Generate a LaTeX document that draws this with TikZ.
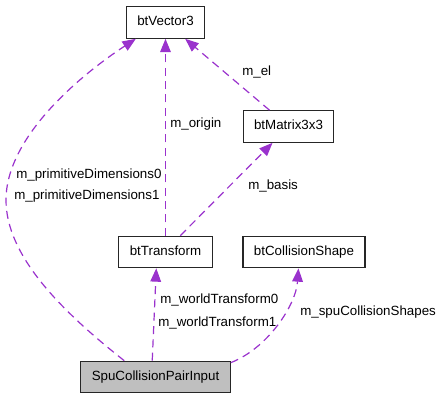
\documentclass[tikz,border=0pt]{standalone}
\usepackage{fontspec}
\setmainfont{Liberation Sans}
\usetikzlibrary{arrows.meta,calc}
\definecolor{usagepurple}{HTML}{9A32CD}
\definecolor{focusgrey}{HTML}{BFBFBF}

\begin{document}
\begin{tikzpicture}[
  x=.75pt,y=-.75pt,
  classbox/.style={draw=black!85,line width=.9pt,fill=white,
    inner xsep=8.2pt,inner ysep=0pt,minimum height=23.6pt,
    text height=7.3pt,text depth=2.1pt,
    font=\fontsize{10}{12}\selectfont},
  focusbox/.style={classbox,fill=focusgrey},
  usage/.style={draw=usagepurple,line width=.9pt,
    dash pattern=on 6pt off 4pt,
    -{Triangle[length=10pt,width=8pt,fill=usagepurple]}},
  role/.style={anchor=west,inner sep=0pt,
    font=\fontsize{10}{12}\selectfont}
]
% Fixed bounds keep the margins of the source drawing.
\useasboundingbox (0,0) rectangle (439,400);

\node[classbox] (vec) at (165.5,22.5) {btVector3};
\node[classbox] (mat) at (288.5,126.5) {btMatrix3x3};
\node[classbox] (trans) at (165.5,252) {btTransform};
\node[classbox] (shape) at (304,252) {btCollisionShape};
\node[focusbox] (spu) at (155.5,377) {SpuCollisionPairInput};

\node[role] (el-lbl) at (242,72) {m\_el};
\node[role] (origin-lbl) at (170,124) {m\_origin};
\node[role] (dim0-lbl) at (16,175) {m\_primitiveDimensions0};
\node[role] (dim1-lbl) at (14,196) {m\_primitiveDimensions1};
\node[role] (basis-lbl) at (248,186) {m\_basis};
\node[role] (world0-lbl) at (160,300) {m\_worldTransform0};
\node[role] (world1-lbl) at (158,323) {m\_worldTransform1};
\node[role] (shapes-lbl) at (300,312) {m\_spuCollisionShapes};

\draw[usage] ($(spu.north west)+(44,0)$)
  .. controls (60,310) and (6,255) .. (6,200)
  .. controls (6,135) and (85,72) .. ($(vec.south west)+(10,0)$);
\draw[usage] (trans.north) -- (vec.south);
\draw[usage] ($(mat.north west)+(27,0)$) -- ($(vec.south east)+(-20,0)$);
\draw[usage] ($(trans.north west)+(62,0)$) -- ($(mat.south west)+(30,0)$);
\draw[usage] ($(spu.north west)+(72,0)$) -- ($(trans.south west)+(38,0)$);
\draw[usage] ($(spu.north east)+(0,2)$)
  .. controls (268,348) and (296,305) .. ($(shape.south west)+(56,0)$);
\end{tikzpicture}
\end{document}
